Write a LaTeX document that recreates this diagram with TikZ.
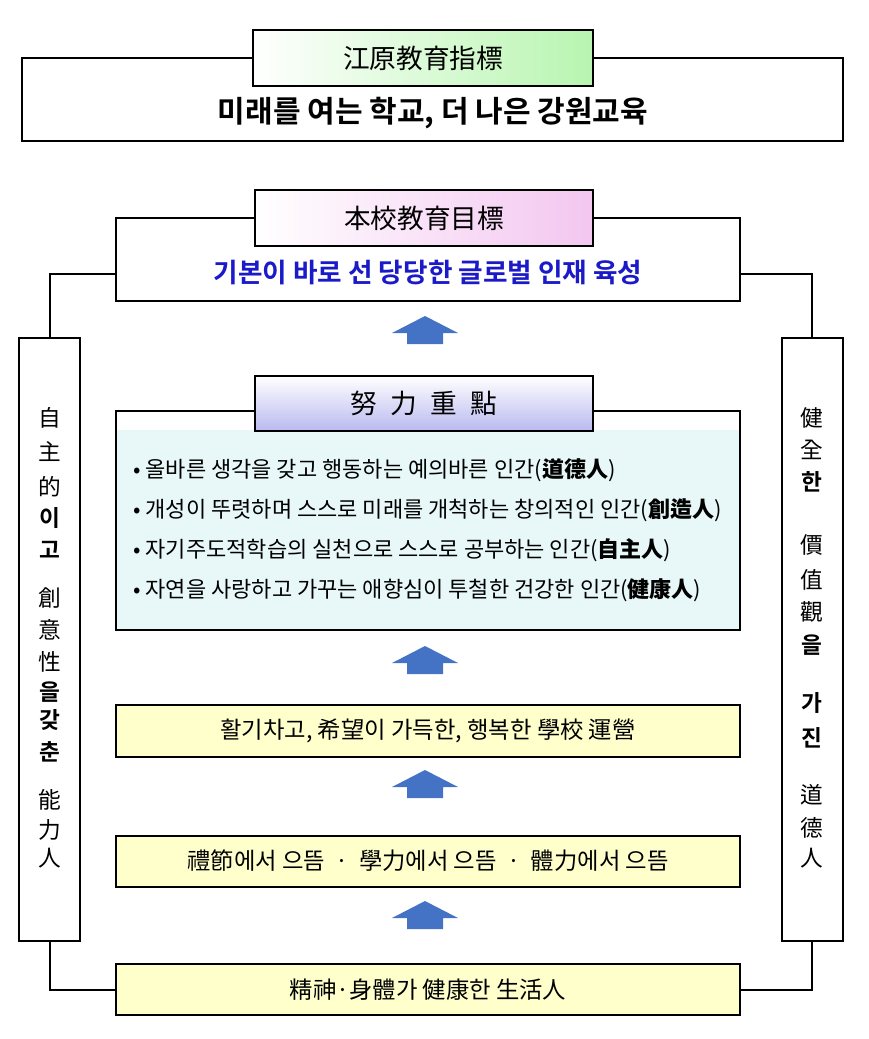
\documentclass[tikz,border=0pt]{standalone}
\usepackage{fontspec}
\setmainfont{Noto Sans CJK KR}
\newfontfamily\krb{Noto Sans CJK KR Bold}
\definecolor{arr}{HTML}{4472C4}
\definecolor{ylw}{HTML}{FFFFCC}
\definecolor{cyn}{HTML}{E8F8F8}
\definecolor{grn}{HTML}{B8F5B0}
\definecolor{pnk}{HTML}{F3C6F0}
\definecolor{lav}{HTML}{B9B9F0}
\definecolor{blu}{HTML}{1A1AC8}
\tikzset{
  box/.style={draw=black, line width=0.8pt},
  ttl/.style={font=\fontsize{20}{22}\selectfont},
  vc/.style={font=\fontsize{17}{18}\selectfont, inner sep=0pt},
  vb/.style={font=\krb\fontsize{17}{18}\selectfont, inner sep=0pt},
  ln/.style={line width=0.8pt},
  bl/.style={font=\fontsize{16.5}{18}\selectfont, anchor=west, inner sep=0pt},
  yl/.style={font=\fontsize{17.5}{19}\selectfont}
}
\newcommand{\uparr}[1]{\fill[arr] (425,#1) -- (458,#1+17) -- (443,#1+17) -- (443,#1+28) -- (407,#1+28) -- (407,#1+17) -- (392,#1+17) -- cycle;}
\begin{document}
\begin{tikzpicture}[x=0.75pt,y=-0.75pt]
\useasboundingbox (0,0) rectangle (868,1039);
% top
\draw[box] (22,58) rectangle (843,141);
\shade[left color=white,right color=grn] (253,30) rectangle (593,86);
\draw[box] (253,30) rectangle (593,86);
\node[ttl] (t1) at (423,58) {江原教育指標};
\node[font=\krb\fontsize{22.5}{24}\selectfont] (s1) at (433,113) {미래를 여는 학교, 더 나은 강원교육};
% school
\draw[box] (116,218) rectangle (740,301);
\shade[left color=white,right color=pnk] (255,190) rectangle (593,246);
\draw[box] (255,190) rectangle (593,246);
\node[ttl] (t2) at (424,218) {本校教育目標};
\node[font=\krb\fontsize{20}{22}\selectfont, text=blu] (s2) at (428,273) {기본이 바로 선 당당한 글로벌 인재 육성};
% side columns
\draw[box] (19,338) rectangle (80,941);
\draw[box] (782,338) rectangle (843,941);
\draw[ln] (116,274) -- (50,274) -- (50,338);
\draw[ln] (740,274) -- (812,274) -- (812,338);
\draw[ln] (50,941) -- (50,990) -- (116,990);
\draw[ln] (812,941) -- (812,990) -- (740,990);
\foreach \c/\y in {自/418,主/452,的/487} \node[vc] at (50,\y) {\c};
\foreach \c/\y in {이/518,고/550,갖/720,춘/752} \node[vb] at (50,\y) {\c};
\foreach \c/\y in {創/598,意/630,性/662} \node[vc] at (50,\y) {\c};
\node[vb] at (50,692) {을};
\foreach \c/\y in {能/800,力/830,人/858} \node[vc] at (50,\y) {\c};
\foreach \c/\y in {健/418,全/450} \node[vc] at (812,\y) {\c};
\node[vb] at (812,482) {한};
\foreach \c/\y in {價/545,值/580,觀/612} \node[vc] at (812,\y) {\c};
\foreach \c/\y in {을/645,가/703,진/738} \node[vb] at (812,\y) {\c};
\foreach \c/\y in {道/795,德/828,人/858} \node[vc] at (812,\y) {\c};
% arrows
\uparr{316}
\uparr{646}
\uparr{770}
\uparr{901}
% effort
\draw[box] (116,411) rectangle (740,630);
\fill[cyn] (117,430) rectangle (739,629);
\shade[top color=white,bottom color=lav] (255,376) rectangle (593,431);
\draw[box] (255,376) rectangle (593,431);
\node[ttl] (t3) at (424,403) {努\enspace 力\enspace 重\enspace 點};
\node[bl] at (133,470) {• 올바른 생각을 갖고 행동하는 예의바른 인간(\textbf{道德人})};
\node[bl] at (133,510) {• 개성이 뚜렷하며 스스로 미래를 개척하는 창의적인 인간(\textbf{創造人})};
\node[bl] at (133,550) {• 자기주도적학습의 실천으로 스스로 공부하는 인간(\textbf{自主人})};
\node[bl] at (133,590) {• 자연을 사랑하고 가꾸는 애향심이 투철한 건강한 인간(\textbf{健康人})};
% yellow boxes
\draw[box,fill=ylw] (116,705) rectangle (740,757);
\node[yl] at (428,731) {활기차고, 希望이 가득한, 행복한 學校 運營};
\draw[box,fill=ylw] (116,836) rectangle (740,887);
\node[yl] at (428,861) {禮節에서 으뜸 \ · \ 學力에서 으뜸 \ · \ 體力에서 으뜸};
\draw[box,fill=ylw] (116,964) rectangle (740,1015);
\node[yl] at (428,990) {精神·身體가 健康한 生活人};
\end{tikzpicture}
\end{document}
